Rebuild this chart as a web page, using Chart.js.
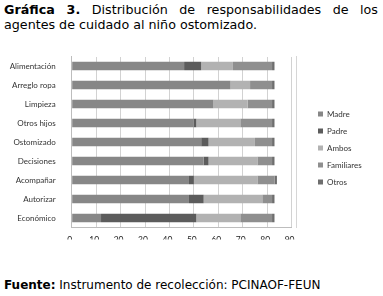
<!DOCTYPE html>
<html>
<head>
<meta charset="utf-8">
<script src="https://cdn.jsdelivr.net/npm/chart.js@4"></script>
<style>
  html, body { margin:0; padding:0; background:#fff; }
  body { width:383px; height:296px; position:relative; overflow:hidden; font-family:"DejaVu Sans", Verdana, sans-serif; color:#000; }
  #title { position:absolute; left:4px; top:2px; width:374px; font-size:12.7px; line-height:15px; text-align:justify; }
  #foot { position:absolute; left:4px; top:278px; font-size:12px; line-height:15px; white-space:nowrap; }
  #c { position:absolute; left:0; top:40px; }
</style>
</head>
<body>
<div id="title"><b>Gráfica 3.</b> Distribución de responsabilidades de los agentes de cuidado al niño ostomizado.</div>
<canvas id="c" width="383" height="215"></canvas>
<div id="foot"><b>Fuente:</b> Instrumento de recolección: PCINAOF-FEUN</div>
<script>
const categories = ['Alimentación','Arreglo ropa','Limpieza','Otros hijos','Ostomizado','Decisiones','Acompañar','Autorizar','Económico'];
const madre      = [46, 65, 58, 50, 53, 54, 48, 48, 12];
const padre      = [ 7,  0,  0,  1,  3,  2,  2,  6, 39];
const ambos      = [13,  8, 14, 18, 19, 20, 26, 24, 18];
const familiares = [16,  9, 10, 13,  7,  6,  7,  4, 13];
const otros      = [ 1,  1,  1,  1,  1,  1,  1,  1,  1];
const xTicksMax = 90;

const tickFont = { family: 'Lato, "Liberation Sans", sans-serif', size: 8 };
const xTickFont = { family: 'Lato, "Liberation Sans", sans-serif', size: 8.5 };
const txt = '#333333';

const mk = (label, data, color) => ({ label, data, backgroundColor: color, borderWidth: 0, xAxisID: 'x', yAxisID: 'y', categoryPercentage: 1, barPercentage: 0.44 });

new Chart(document.getElementById('c'), {
  type: 'bar',
  data: {
    labels: categories,
    datasets: [
      mk('Madre', madre, '#878787'),
      mk('Padre', padre, '#5c5c5c'),
      mk('Ambos', ambos, '#b2b2b2'),
      mk('Familiares', familiares, '#8f8f8f'),
      mk('Otros', otros, '#6e6e6e')
    ]
  },
  options: {
    indexAxis: 'y',
    responsive: false,
    animation: false,
    devicePixelRatio: 1,
    layout: { padding: { top: 16.5, bottom: 15.5, left: 0, right: 19 } },
    scales: {
      x: {
        type: 'linear', axis: 'x', position: 'bottom', stacked: true, min: 0, max: xTicksMax,
        ticks: { display: true, stepSize: 10, font: xTickFont, color: '#222222', padding: 8, labelOffset: -2, maxRotation: 0, autoSkip: false },
        grid: { display: true, drawOnChartArea: false, drawTicks: false, color: '#bdbdbd' },
        border: { display: true, color: '#bdbdbd', width: 1 },
        afterFit(s) { s.height = 12; }
      },
      xg: {
        type: 'linear', axis: 'x', position: 'top', min: -1.9, max: 88.1,
        ticks: { display: false, stepSize: 10 },
        grid: { color: '#d2d2d2', drawTicks: false, lineWidth: 1 },
        border: { display: false },
        afterFit(s) { s.height = 0; }
      },
      y: {
        type: 'category', axis: 'y', position: 'left', stacked: true,
        ticks: { font: tickFont, color: txt, padding: 8 },
        grid: { display: false },
        border: { display: true, color: '#bdbdbd', width: 1 },
        afterFit(s) { s.width = 71.7; }
      },
      yr1: {
        type: 'category', axis: 'y', position: 'right',
        ticks: { display: false },
        grid: { display: false },
        border: { display: false },
        afterFit(s) { s.width = 5.4; }
      },
      yr2: {
        type: 'category', axis: 'y', position: 'right',
        ticks: { display: false },
        grid: { display: false },
        border: { display: true, color: '#d6d6d6', width: 1 },
        afterFit(s) { s.width = 12; }
      }
    },
    plugins: {
      legend: {
        position: 'right', maxWidth: 55,
        labels: { boxWidth: 5, boxHeight: 5, padding: 9, font: tickFont, color: txt }
      },
      tooltip: { enabled: false }
    }
  }
});
</script>
</body>
</html>
